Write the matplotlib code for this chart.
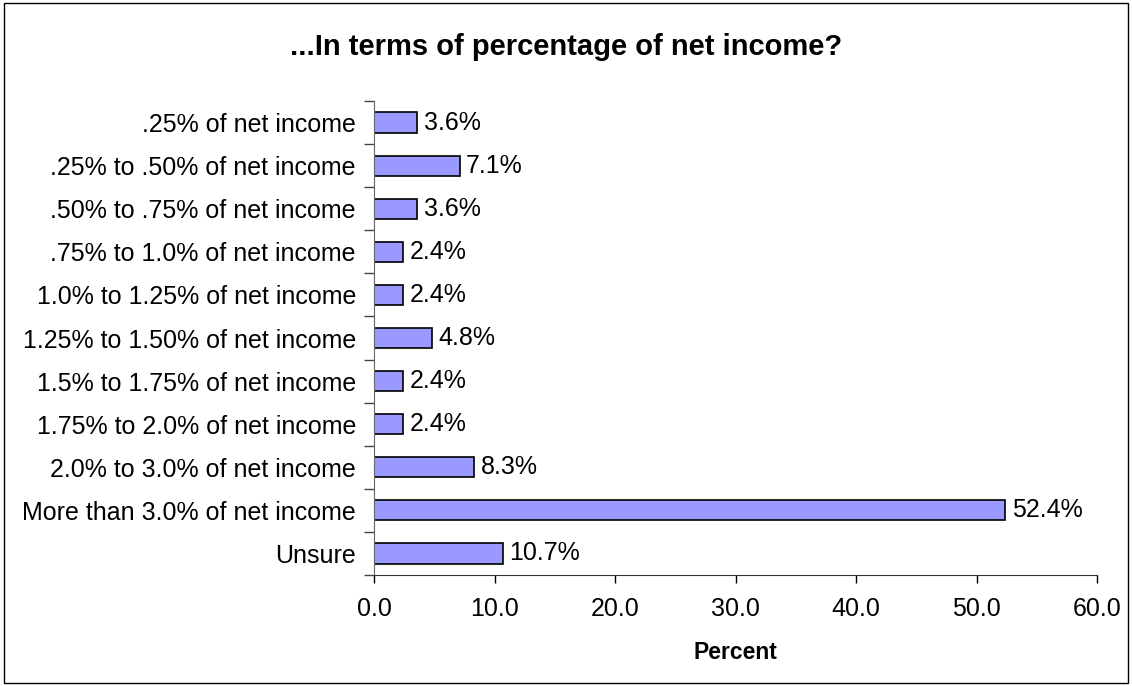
import matplotlib
matplotlib.use("Agg")
import matplotlib.pyplot as plt
from matplotlib.patches import Rectangle
import numpy as np

plt.rcParams['font.family'] = ['Liberation Sans', 'DejaVu Sans']

categories = [".25% of net income", ".25% to .50% of net income", ".50% to .75% of net income",
              ".75% to 1.0% of net income", "1.0% to 1.25% of net income", "1.25% to 1.50% of net income",
              "1.5% to 1.75% of net income", "1.75% to 2.0% of net income", "2.0% to 3.0% of net income",
              "More than 3.0% of net income", "Unsure"]
values = [3.6, 7.1, 3.6, 2.4, 2.4, 4.8, 2.4, 2.4, 8.3, 52.4, 10.7]
xticks = [0, 10, 20, 30, 40, 50, 60]

fig = plt.figure(figsize=(11.32, 6.86), dpi=100)
ax = fig.add_axes([374/1132, 1-575/686, (1097-374)/1132, (575-101)/686])

n = len(categories)
y = np.arange(n)
ax.barh(y, values, height=0.47, color='#9999FF', edgecolor='black', linewidth=1.2)
for yi, v in zip(y, values):
    ax.text(v + 0.55, yi, f"{v:.1f}%", va='center', ha='left', fontsize=18)

ax.set_ylim(n - 0.5, -0.5)
ax.set_xlim(0, 60)
ax.set_yticks(y)
ax.set_yticklabels(categories, fontsize=18)
ax.set_yticks(np.arange(n + 1) - 0.5, minor=True)
ax.tick_params(axis='y', which='major', length=0, pad=13)
ax.tick_params(axis='y', which='minor', length=7, width=1, color='#444444')
ax.set_xticks(xticks)
ax.set_xticklabels([f"{t:.1f}" for t in xticks], fontsize=18)
ax.tick_params(axis='x', length=6, width=1, pad=10)
for s in ['top', 'right']:
    ax.spines[s].set_visible(False)
ax.spines['left'].set_color('#666666')
ax.spines['bottom'].set_color('#333333')
ax.set_xlabel("Percent", fontsize=16.5, fontweight='bold', labelpad=14)
fig.text(0.5 + (0.0), 1 - 47/686, "...In terms of percentage of net income?", ha='center', va='center',
         fontsize=21, fontweight='bold')
fig.patches.append(Rectangle((4/1132, 3/686), 1 - 8/1132, 1 - 6/686, transform=fig.transFigure,
                             fill=False, edgecolor='black', linewidth=1))
fig.savefig("out.png", dpi=100)
